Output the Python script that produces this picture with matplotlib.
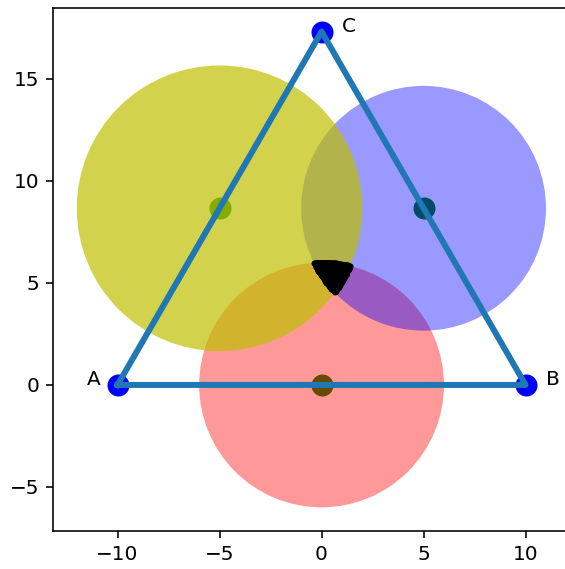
import numpy as np
import matplotlib
matplotlib.use("Agg")
import matplotlib.pyplot as plt
from matplotlib.patches import Circle

# --- Daten ---------------------------------------------------------------
ecken_x = [-10.0, 10.0, 0.0]
ecken_y = [0.0, 0.0, 17.32]
ecken_namen = ["A", "B", "C"]
label_dx = [-1.5, 1.0, 1.0]

# Kreise (Mittelpunkte = Seitenmitten), Radien, Farben, Alpha
kreis_x = [0.0, 5.0, -5.0]
kreis_y = [0.0, 8.66, 8.66]
kreis_r = [6.0, 6.0, 7.0]
kreis_farbe = ["r", "b", "y"]
kreis_alpha = [0.4, 0.4, 0.7]

DPI = 144
W, H = 565, 569
fig = plt.figure(figsize=(W / DPI, H / DPI), dpi=DPI)

xlim = (-13.15, 12.15)
ylim = (-7.17, 18.49)
ppu = 20.4  # Pixel pro Einheit
left_px, bottom_px = 53.3, H - 531.2
ax = fig.add_axes([left_px / W, bottom_px / H,
                   (xlim[1] - xlim[0]) * ppu / W,
                   (ylim[1] - ylim[0]) * ppu / H])

# Mittelpunkte (unter den Kreisen)
ax.plot(kreis_x, kreis_y, "go", ms=10, zorder=0.9)

for cx, cy, r, c, a in zip(kreis_x, kreis_y, kreis_r, kreis_farbe, kreis_alpha):
    ax.add_patch(Circle((cx, cy), r, color=c, alpha=a, lw=0))

# Schnittmenge aller drei Kreise als Punktwolke
gx, gy = np.meshgrid(np.linspace(-3, 4, 200), np.linspace(2, 8, 180))
maske = np.ones_like(gx, dtype=bool)
for cx, cy, r in zip(kreis_x, kreis_y, kreis_r):
    maske &= (gx - cx) ** 2 + (gy - cy) ** 2 <= r ** 2
ax.scatter(gx[maske], gy[maske], s=9, c="black", lw=0, zorder=1.5)

# Dreieck
ax.plot(ecken_x, ecken_y, "bo", ms=10)
ax.plot(ecken_x + [ecken_x[0]], ecken_y + [ecken_y[0]], color="C0", lw=3)
for x, y, n, dx in zip(ecken_x, ecken_y, ecken_namen, label_dx):
    ax.text(x + dx, y, n, fontsize=10)

ax.set_xlim(*xlim)
ax.set_ylim(*ylim)
ax.set_xticks([-10, -5, 0, 5, 10])
ax.set_yticks([-5, 0, 5, 10, 15])
# rechte Achsenlinie liegt ausserhalb des Bildes
ax.spines["right"].set_visible(False)

fig.savefig("out.png", dpi=DPI)
